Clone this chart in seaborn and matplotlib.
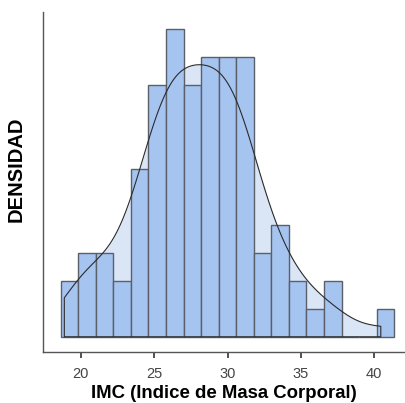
import numpy as np
import pandas as pd
import matplotlib
matplotlib.use("Agg")
import matplotlib.pyplot as plt
import seaborn as sns

# histogram (19 bins)
bin_start = 18.62
bin_width = 1.197
counts = [2, 3, 3, 2, 6, 9, 11, 9, 10, 10, 10, 3, 4, 2, 1, 2, 0, 0, 1]
kde_range = (18.87, 40.45)
x_ticks = [20, 25, 30, 35, 40]

edges = bin_start + bin_width * np.arange(len(counts) + 1)
centers = (edges[:-1] + edges[1:]) / 2
df = pd.DataFrame({"imc": centers, "n": counts})

sns.set_style("white")
plt.rcParams['font.family'] = ['Liberation Sans', 'DejaVu Sans']

fig = plt.figure(figsize=(4.05, 4.03), dpi=100)
ax = fig.add_axes([0.107, 0.127, 0.893, 0.844])

bw = 0.6

# density fill behind the bars
sns.kdeplot(data=df, x="imc", weights="n", fill=True, clip=kde_range, cut=3,
            bw_adjust=bw, color="#dae5f6", alpha=1, linewidth=0, ax=ax, zorder=1)

sns.histplot(data=df, x="imc", weights="n", bins=list(edges), stat="density",
             color="#a6c4f0", alpha=1, edgecolor="#5a5f6a", linewidth=1.0,
             ax=ax, zorder=2)

# outline of the density on top
sns.kdeplot(data=df, x="imc", weights="n", fill=True, clip=kde_range, cut=3,
            bw_adjust=bw, color="#2b2b2b", alpha=1, linewidth=0.8, ax=ax, zorder=3)
outline = ax.collections[-1]
outline.set_facecolor("none")
outline.set_edgecolor("#2b2b2b")

n = sum(counts)
scale = n * bin_width
ax.set_xlim(17.44, 42.1)
ax.set_ylim(-0.536 / scale, 11.6 / scale)

ax.set_xticks(x_ticks)
ax.set_xticklabels([str(t) for t in x_ticks], fontsize=10.5, color="#444444")
ax.set_yticks([])
ax.tick_params(axis="x", direction="out", length=4, width=1.2, color="#333333",
               bottom=True, pad=7)

for side in ["top", "right"]:
    ax.spines[side].set_visible(False)
for side in ["left", "bottom"]:
    ax.spines[side].set_color("#555555")
    ax.spines[side].set_linewidth(1.0)

ax.set_xlabel("IMC (Indice de Masa Corporal)", fontsize=13.4, fontweight="bold",
              color="black", labelpad=3)
ax.set_ylabel("DENSIDAD", fontsize=14.5, fontweight="bold", color="black")
ax.yaxis.set_label_coords(-0.05, 0.537)

fig.savefig("out.png", dpi=100)
